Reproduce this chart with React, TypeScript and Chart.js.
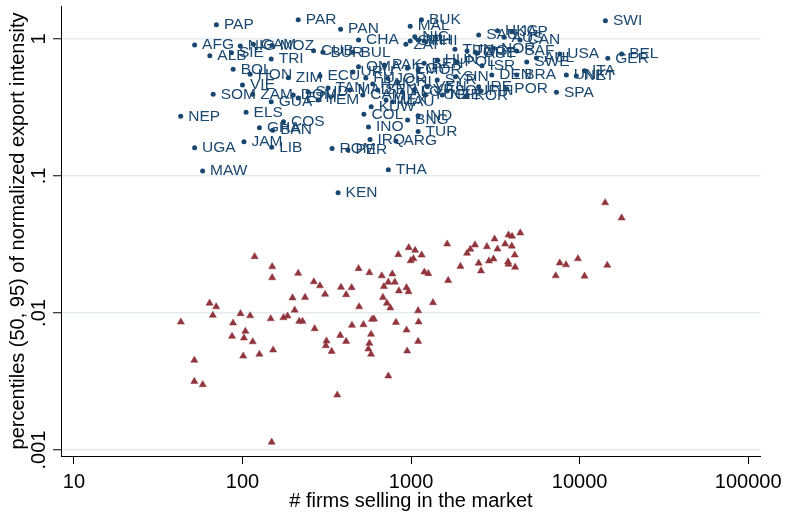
import React, { useEffect, useRef } from "react";
import { Chart, registerables } from "chart.js";

Chart.register(...registerables);

const FONT = "'Liberation Sans', Arial, Helvetica, sans-serif";
const BLUE = "#1a476f";
const MAROON = "#90353b";
const GRID = "#e4ecef";

// axis ticks
const xTicks = [10, 100, 1000, 10000, 100000];
const xTickLabels = ["10", "100", "1000", "10000", "100000"];
const yTicks = [0.001, 0.01, 0.1, 1];
const yTickLabels = [".001", ".01", ".1", "1"];

// 95th percentile (labelled blue dots)
const countries = [
  "PAP", "PAR", "AFG", "ALB", "SIE", "NIG", "GAM", "MOZ", "TRI", "CUB",
  "BUR", "BUL", "BOL", "HON", "ZIM", "ECU", "VIE", "SOM", "ZAM", "DOM",
  "GUA", "ELS", "NEP", "GHA", "COS", "BAN", "UGA", "JAM", "LIB", "MAW",
  "ROM", "PER", "KEN", "THA", "IRQ", "ARG", "INO", "COL", "IND", "BNG",
  "TUR", "MEX", "KUW", "SOU", "FIN", "POR", "SPA", "USA", "SWI", "GER",
  "BEL", "ITA", "NET", "UNK", "JAP", "SAU", "CAN", "HKG", "AUS", "PAN",
  "BUK", "MAL", "NIC", "CHA", "ZAI", "SRI", "MLI", "PHI", "TOG", "GRE",
  "BEN", "ISR", "OMA",
  "TUN", "AUT", "NOR", "PAK", "EGY", "MOR", "SIN", "DEN", "JOR", "SYR",
  "VEN", "CYP", "MAU", "IRE", "URU", "FIJ", "HAI", "MAD", "CAM", "SEN",
  "CHI", "ALG", "YUG", "HUN", "POL", "NZE", "KOR", "SWE", "BRA", "AUL",
  "SAF", "SUD", "YEM", "TAN", "ETH",
];
const firms95 = [
  70, 214, 52, 64, 86, 97, 116, 150, 148, 264,
  300, 452, 88, 111, 187, 288, 100, 67, 115, 200,
  148, 105, 43, 126, 175, 151, 52, 102, 149, 58,
  340, 422, 369, 733, 571, 813, 559, 525, 1101, 953,
  1101, 710, 580, 1637, 2600, 3698, 7281, 7620, 14220, 14690,
  17750, 10690, 9550, 8340, 3958, 2518, 4430, 3255, 3562, 382,
  1152, 988, 1052, 488, 931, 988, 1101, 1195, 2148, 2404,
  1195, 2633, 488,
  1820, 2460, 3084, 695, 952, 1101, 1834, 3013, 726, 1429,
  1250, 1043, 777, 2518, 452, 539, 593, 434, 517, 634,
  832, 890, 1216, 1429, 1875, 1531, 2148, 4853, 4236, 5546,
  4236, 245, 281, 322, 214,
];
const p95 = [
  1.27, 1.38, 0.904, 0.755, 0.794, 0.889, 0.915, 0.9, 0.715, 0.821,
  0.8, 0.8, 0.601, 0.553, 0.522, 0.537, 0.462, 0.395, 0.395, 0.39,
  0.349, 0.292, 0.273, 0.225, 0.249, 0.216, 0.161, 0.178, 0.162, 0.109,
  0.159, 0.155, 0.0755, 0.111, 0.185, 0.18, 0.228, 0.282, 0.275, 0.256,
  0.211, 0.359, 0.32, 0.417, 0.417, 0.432, 0.408, 0.777, 1.36, 0.723,
  0.777, 0.587, 0.537, 0.546, 1.13, 1.07, 0.983, 1.15, 1.03, 1.18,
  1.38, 1.24, 1.04, 0.983, 0.915, 0.967, 0.983, 0.967, 0.817, 0.8,
  0.665, 0.638, 0.628,
  0.841, 0.787, 0.855, 0.646, 0.611, 0.594, 0.531, 0.546, 0.517, 0.502,
  0.449, 0.425, 0.349, 0.449, 0.574, 0.519, 0.47, 0.425, 0.39, 0.425,
  0.485, 0.41, 0.39, 0.703, 0.679, 0.39, 0.384, 0.679, 0.546, 0.726,
  0.817, 0.41, 0.359, 0.439, 0.371,
];

// 50th percentile (triangles)
const firms50 = [
  118, 150, 150, 214, 265, 288, 309, 384, 444, 412,
  488, 566, 63.8, 69.8, 66.7, 43.1, 97.3, 111, 87.9, 147,
  175, 185, 198, 235, 204, 217, 227, 268, 104, 86.7,
  102, 115, 101, 126, 152, 315, 312, 380, 412, 338,
  446, 492, 522, 51.8, 51.8, 58.1, 365, 149, 579, 566,
  558, 579, 587, 670, 774, 733, 801, 690, 847, 940,
  966, 681, 719, 753, 840, 969, 1057, 1156, 995, 1033,
  1199, 1265, 1637, 1660, 1349, 1101, 603, 813, 1109, 940,
  1101, 948, 733, 1963, 2148, 2248, 2395, 2818, 3128, 3258,
  3612, 3784, 3972, 3958, 4446, 4121, 2518, 2897, 3084, 2600,
  3761, 3784, 4140, 7211, 14160, 17740, 9770, 7620, 8300, 14590,
  10690,
];
const p50 = [
  0.0258, 0.0218, 0.0181, 0.0195, 0.0169, 0.0158, 0.0137, 0.0154, 0.0153, 0.0136,
  0.0211, 0.0197, 0.0118, 0.0111, 0.00962, 0.0086, 0.00989, 0.00955, 0.00845, 0.00908,
  0.00924, 0.00951, 0.0129, 0.013, 0.0105, 0.0087, 0.0087, 0.00768, 0.00735, 0.00676,
  0.00657, 0.00617, 0.00485, 0.005, 0.00537, 0.00625, 0.00577, 0.00687, 0.00621, 0.00525,
  0.00813, 0.0111, 0.00822, 0.00452, 0.00317, 0.003, 0.00252, 0.00114, 0.007, 0.00601,
  0.00546, 0.005, 0.009, 0.0187, 0.0193, 0.0168, 0.0168, 0.0156, 0.0145, 0.0153,
  0.0143, 0.013, 0.0118, 0.0109, 0.0267, 0.03, 0.0287, 0.0265, 0.0241, 0.0249,
  0.0199, 0.0194, 0.0319, 0.0173, 0.0119, 0.0104, 0.00904, 0.00855, 0.0086, 0.00751,
  0.00621, 0.00528, 0.00347, 0.0219, 0.0273, 0.0292, 0.0314, 0.0305, 0.0347, 0.0293,
  0.0319, 0.0371, 0.0363, 0.0308, 0.0384, 0.0265, 0.0231, 0.024, 0.0248, 0.0203,
  0.0236, 0.0227, 0.0216, 0.0187, 0.0638, 0.0494, 0.0249, 0.0232, 0.0225, 0.0223,
  0.0186,
];

const xTitle = "# firms selling in the market";
const yTitle = "percentiles (50, 95) of normalized export intensity";

const labelPlugin = {
  id: "countryLabels",
  afterDatasetsDraw(chart: any) {
    const meta = chart.getDatasetMeta(0);
    const ctx = chart.ctx;
    ctx.save();
    ctx.font = `15.5px ${FONT}`;
    ctx.fillStyle = BLUE;
    ctx.textBaseline = "middle";
    ctx.textAlign = "left";
    meta.data.forEach((el: any, i: number) => {
      ctx.fillText(countries[i], el.x + 7.5, el.y);
    });
    ctx.restore();
  },
};

const yTickPlugin = {
  id: "rotatedYTicks",
  afterDraw(chart: any) {
    const s = chart.scales.y;
    const ctx = chart.ctx;
    ctx.save();
    ctx.font = `20px ${FONT}`;
    ctx.fillStyle = "#000";
    ctx.textAlign = "center";
    ctx.textBaseline = "alphabetic";
    yTicks.forEach((v, i) => {
      const py = s.getPixelForValue(v);
      ctx.save();
      ctx.translate(s.right - 16, py);
      ctx.rotate(-Math.PI / 2);
      ctx.fillText(yTickLabels[i], 0, 0);
      ctx.restore();
    });
    ctx.restore();
  },
};

export default function App() {
  const ref = useRef<HTMLCanvasElement | null>(null);

  useEffect(() => {
    document.body.style.margin = "0";
    const canvas = ref.current;
    if (!canvas) return;
    const chart = new Chart(canvas, {
      type: "scatter",
      data: {
        datasets: [
          {
            label: "p95",
            data: firms95.map((x, i) => ({ x, y: p95[i] })),
            pointStyle: "circle",
            pointRadius: 2.5,
            backgroundColor: BLUE,
            borderColor: BLUE,
            borderWidth: 0,
          },
          {
            label: "p50",
            data: firms50.map((x, i) => ({ x, y: p50[i] })),
            pointStyle: "triangle",
            pointRadius: 4.1,
            backgroundColor: MAROON,
            borderColor: MAROON,
            borderWidth: 0.5,
          },
        ],
      },
      options: {
        responsive: false,
        animation: false,
        devicePixelRatio: 1,
        events: [],
        layout: { padding: { left: 0, right: 22, top: 6, bottom: 0 } },
        plugins: {
          legend: { display: false },
          tooltip: { enabled: false },
        },
        scales: {
          x: {
            type: "logarithmic",
            min: Math.pow(10, 0.9234),
            max: Math.pow(10, 5.075),
            afterBuildTicks: (scale: any) => {
              scale.ticks = xTicks.map((v) => ({ value: v }));
            },
            afterFit: (scale: any) => {
              scale.height = 58;
            },
            ticks: {
              autoSkip: false,
              maxRotation: 0,
              minRotation: 0,
              padding: 6,
              color: "#000",
              font: { family: FONT, size: 20 },
              callback: (v: any) => {
                const i = xTicks.indexOf(Number(v));
                return i >= 0 ? xTickLabels[i] : "";
              },
            },
            grid: {
              drawOnChartArea: false,
              drawTicks: true,
              tickLength: 8,
              tickColor: "#000",
              tickWidth: 1,
            },
            border: { display: true, color: "#000", width: 1 },
            title: {
              display: true,
              text: xTitle,
              color: "#000",
              font: { family: FONT, size: 20, lineHeight: 1.2 },
              padding: { top: 0, bottom: 1 },
            },
          },
          y: {
            type: "logarithmic",
            min: Math.pow(10, -3.0438),
            max: Math.pow(10, 0.241),
            afterBuildTicks: (scale: any) => {
              scale.ticks = yTicks.map((v) => ({ value: v }));
            },
            afterFit: (scale: any) => {
              scale.width = 61;
            },
            ticks: { display: false },
            grid: {
              drawOnChartArea: true,
              color: GRID,
              lineWidth: 1.5,
              drawTicks: true,
              tickLength: 8,
              tickColor: "#000",
              tickWidth: 1,
            },
            border: { display: true, color: "#000", width: 1 },
            title: {
              display: true,
              text: yTitle,
              color: "#000",
              font: { family: FONT, size: 20, lineHeight: 1.2 },
              padding: { top: 6, bottom: 0 },
            },
          },
        },
      },
      plugins: [labelPlugin, yTickPlugin],
    });
    return () => chart.destroy();
  }, []);

  return (
    <div style={{ width: 788, height: 514, background: "#fff" }}>
      <canvas ref={ref} width={788} height={514} style={{ display: "block" }} />
    </div>
  );
}
